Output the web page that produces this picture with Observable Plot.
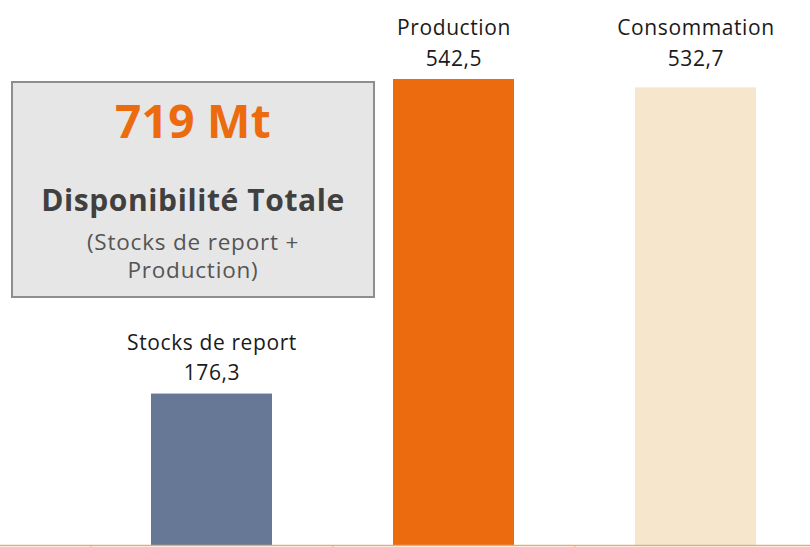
<!DOCTYPE html>
<html>
<head>
<meta charset="utf-8">
<script src="https://cdn.jsdelivr.net/npm/d3@7"></script>
<script src="https://cdn.jsdelivr.net/npm/@observablehq/plot@0.6"></script>
<style>
  html, body { margin: 0; padding: 0; background: #fff; }
  #wrap { position: relative; width: 810px; height: 547px; font-family: "Open Sans", sans-serif; }
  #box {
    position: absolute; left: 11px; top: 81px; width: 364px; height: 217px;
    box-sizing: border-box; background: #e6e6e6; border: 2px solid #8e8e8e;
    text-align: center; font-family: "Open Sans", sans-serif;
  }
  #box .big { position: absolute; left: 0; right: 0; top: 11px; font-size: 46px; font-weight: 700; color: #ec6b0e; line-height: 52px; letter-spacing: 0.3px; }
  #box .mid { position: absolute; left: 0; right: 0; top: 99px; font-size: 30px; font-weight: 700; color: #404040; line-height: 36px; letter-spacing: 0.6px; }
  #box .small { position: absolute; left: 0; right: 0; top: 145px; font-size: 22.5px; color: #555; line-height: 28px; letter-spacing: 0.8px; }
  svg text { letter-spacing: 0.6px; }
</style>
</head>
<body>
<div id="wrap"></div>
<script>
const categories = ["Stocks de report", "Production", "Consommation"];
const values = [176.3, 542.5, 532.7];
const colors = ["#667896", "#ec6b0e", "#f5e6cc"];
const totalLabel = "719 Mt";
const boxTitle = "Disponibilité Totale";
const boxNote = ["(Stocks de report +", "Production)"];

const data = categories.map((c, i) => ({cat: c, value: values[i], color: colors[i]}));
const fmt = v => v.toFixed(1).replace(".", ",");
const vmax = d3.max(values);

const chart = Plot.plot({
  width: 810,
  height: 547,
  marginTop: 0, marginBottom: 0, marginLeft: 0, marginRight: 0,
  style: {fontFamily: "Open Sans, sans-serif", background: "#fff"},
  x: {domain: categories, range: [90, 817.5], paddingInner: 0.5, paddingOuter: 0.25, axis: null},
  y: {domain: [0, vmax], range: [545, 79], axis: null},
  marks: [
    Plot.barY(data, {x: "cat", y: "value", fill: "color"}),
    Plot.ruleY([0], {stroke: "#eea778", strokeWidth: 1.5}),
    Plot.ruleX(categories, {x: d => d, y1: 0, y2: -3, dx: -121.25, stroke: "#eea778", strokeWidth: 1}),
    Plot.text(data, {
      x: "cat",
      y: d => (d.value > vmax * 0.95 ? vmax : d.value),
      text: d => d.cat + "\n" + fmt(d.value),
      lineAnchor: "bottom", lineHeight: 1.43, dy: -14,
      fontSize: 21, fill: "#1a1a1a"
    })
  ]
});

const wrap = document.getElementById("wrap");
wrap.appendChild(chart);
const box = document.createElement("div");
box.id = "box";
box.innerHTML = `<div class="big">${totalLabel}</div><div class="mid">${boxTitle}</div><div class="small">${boxNote.join("<br>")}</div>`;
wrap.appendChild(box);
</script>
</body>
</html>
